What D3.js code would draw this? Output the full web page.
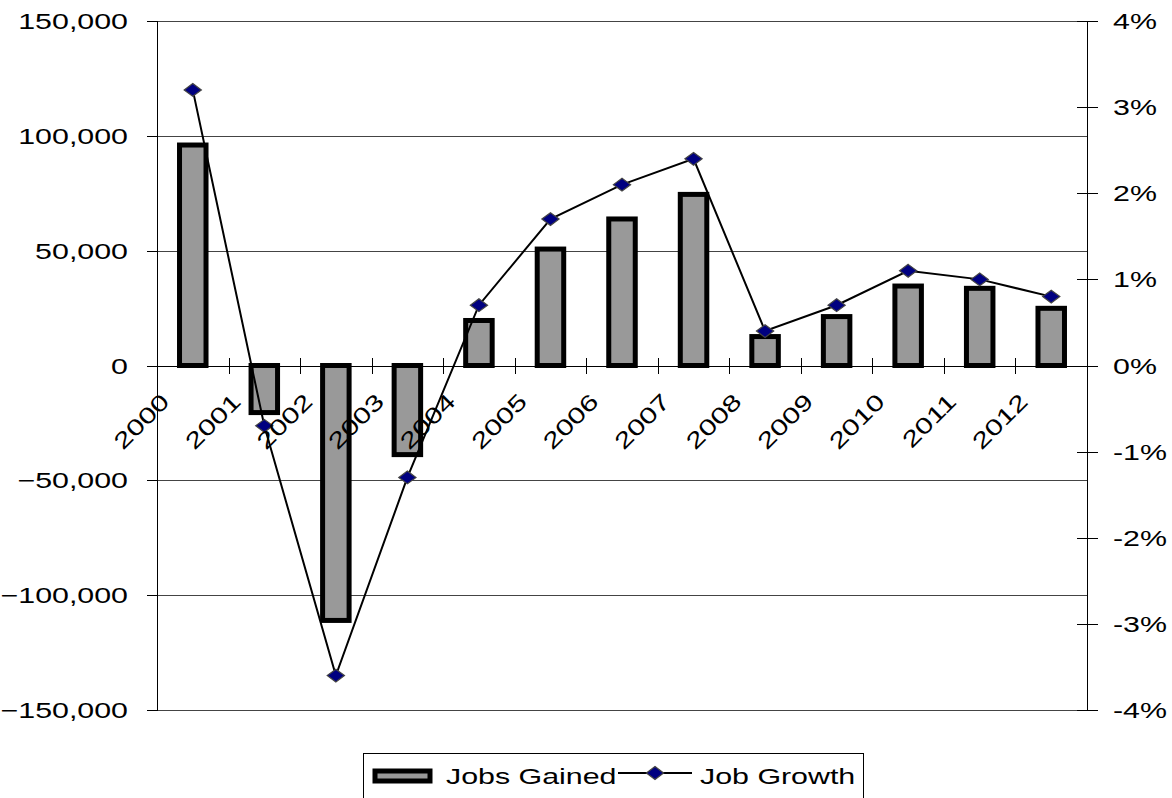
<!DOCTYPE html>
<html><head><meta charset="utf-8">
<script src="https://cdn.jsdelivr.net/npm/d3@7"></script>
<style>
body{margin:0;background:#fff}
text{font-family:"Liberation Sans",Arial,sans-serif;fill:#000}
</style></head>
<body><svg id="c" width="1172" height="798"></svg>
<script>
const years = ["2000","2001","2002","2003","2004","2005","2006","2007","2008","2009","2010","2011","2012"];
const jobsGained = [96000,-20500,-111000,-38800,19600,50700,63800,74500,12600,21300,34600,33600,24900];
const jobGrowth = [3.2,-0.7,-3.6,-1.3,0.7,1.7,2.1,2.4,0.4,0.7,1.1,1.0,0.8];
const leftTicks = [150000,100000,50000,0,-50000,-100000,-150000];
const rightTicks = [4,3,2,1,0,-1,-2,-3,-4];
const seriesNames = ["Jobs Gained","Job Growth"];

const SX = 1.35, FS = 22.5;
const svg = d3.select("#c");
const L = 157, R = 1087, T = 21, B = 710;
const x = d3.scaleBand().domain(years).range([L, R]).paddingInner(0).paddingOuter(0);
const yL = d3.scaleLinear().domain([-150000,150000]).range([B, T]);
const yR = d3.scaleLinear().domain([-4,4]).range([B, T]);
const fmtL = d3.format(",");
const fmtR = v => v + "%";

// gridlines
svg.append("g").selectAll("line").data(leftTicks).join("line")
  .attr("x1", L).attr("x2", R)
  .attr("y1", d => Math.round(yL(d)) + 0.5).attr("y2", d => Math.round(yL(d)) + 0.5)
  .attr("stroke", d => d === 0 ? "#000" : "#444").attr("stroke-width", 1);

// bars
const bw = 26.5;
svg.append("g").selectAll("rect").data(years).join("rect")
  .attr("x", (d,i) => x(d) + x.bandwidth()/2 - bw/2)
  .attr("width", bw)
  .attr("y", (d,i) => Math.min(yL(jobsGained[i]), yL(0)))
  .attr("height", (d,i) => Math.abs(yL(jobsGained[i]) - yL(0)))
  .attr("fill", "#999999").attr("stroke", "#000").attr("stroke-width", 5)
  .attr("stroke-linejoin", "miter");

// axes lines
const ax = svg.append("g").attr("stroke", "#000").attr("stroke-width", 1).attr("shape-rendering","crispEdges");
ax.append("line").attr("x1", L+0.5).attr("x2", L+0.5).attr("y1", T).attr("y2", B+1);
ax.append("line").attr("x1", R+0.5).attr("x2", R+0.5).attr("y1", T).attr("y2", B+1);
ax.selectAll(".lt").data(leftTicks).join("line").attr("class","lt")
  .attr("x1", L-10).attr("x2", L).attr("y1", d => Math.round(yL(d))+0.5).attr("y2", d => Math.round(yL(d))+0.5);
ax.selectAll(".rt").data(rightTicks).join("line").attr("class","rt")
  .attr("x1", R-10).attr("x2", R+11).attr("y1", d => Math.round(yR(d))+0.5).attr("y2", d => Math.round(yR(d))+0.5);
ax.selectAll(".ct").data(years.slice(1)).join("line").attr("class","ct")
  .attr("x1", d => Math.round(x(d))+0.5).attr("x2", d => Math.round(x(d))+0.5)
  .attr("y1", yL(0)-8).attr("y2", yL(0)+8);

// line + markers
const cx = d => x(d) + x.bandwidth()/2;
const line = d3.line().x(d => cx(d)).y((d,i) => yR(jobGrowth[i]));
svg.append("path").datum(years).attr("d", line)
  .attr("fill","none").attr("stroke","#000").attr("stroke-width", 2);
const diamond = "M0,-6.4L8.6,0L0,6.4L-8.6,0Z";
svg.append("g").selectAll("path").data(years).join("path")
  .attr("d", diamond)
  .attr("transform", (d,i) => `translate(${cx(d)},${yR(jobGrowth[i])})`)
  .attr("fill","#000080").attr("stroke","#444").attr("stroke-width",1.2);

// axis labels
svg.append("g").selectAll("text").data(leftTicks).join("text")
  .attr("transform", d => `translate(128,${yL(d)+8}) scale(${SX},1)`)
  .attr("text-anchor","end").attr("font-size", FS).text(d => fmtL(d));
svg.append("g").selectAll("text").data(rightTicks).join("text")
  .attr("transform", d => `translate(1113,${yR(d)+8}) scale(${SX},1)`)
  .attr("text-anchor","start").attr("font-size", FS).text(d => fmtR(d));
svg.append("g").selectAll("text").data(years).join("text")
  .attr("transform", d => `translate(${cx(d)-22},403) rotate(-45) scale(${SX},1)`)
  .attr("text-anchor","end").attr("font-size", FS).text(d => d);

// legend
const lg = svg.append("g");
lg.append("rect").attr("x", 363.5).attr("y", 753.5).attr("width", 500).attr("height", 50)
  .attr("fill","#fff").attr("stroke","#000").attr("stroke-width",1);
lg.append("rect").attr("x", 375).attr("y", 771).attr("width", 55).attr("height", 10)
  .attr("fill","#999999").attr("stroke","#000").attr("stroke-width",5);
lg.append("text").attr("transform", `translate(446,784) scale(${SX},1)`).attr("font-size", FS).text(seriesNames[0]);
lg.append("line").attr("x1", 618).attr("x2", 692).attr("y1", 773).attr("y2", 773).attr("stroke","#000").attr("stroke-width",2);
lg.append("path").attr("d", diamond).attr("transform","translate(655,773)")
  .attr("fill","#000080").attr("stroke","#444").attr("stroke-width",1.2);
lg.append("text").attr("transform", `translate(700,784) scale(${SX},1)`).attr("font-size", FS).text(seriesNames[1]);
</script>
</body></html>
